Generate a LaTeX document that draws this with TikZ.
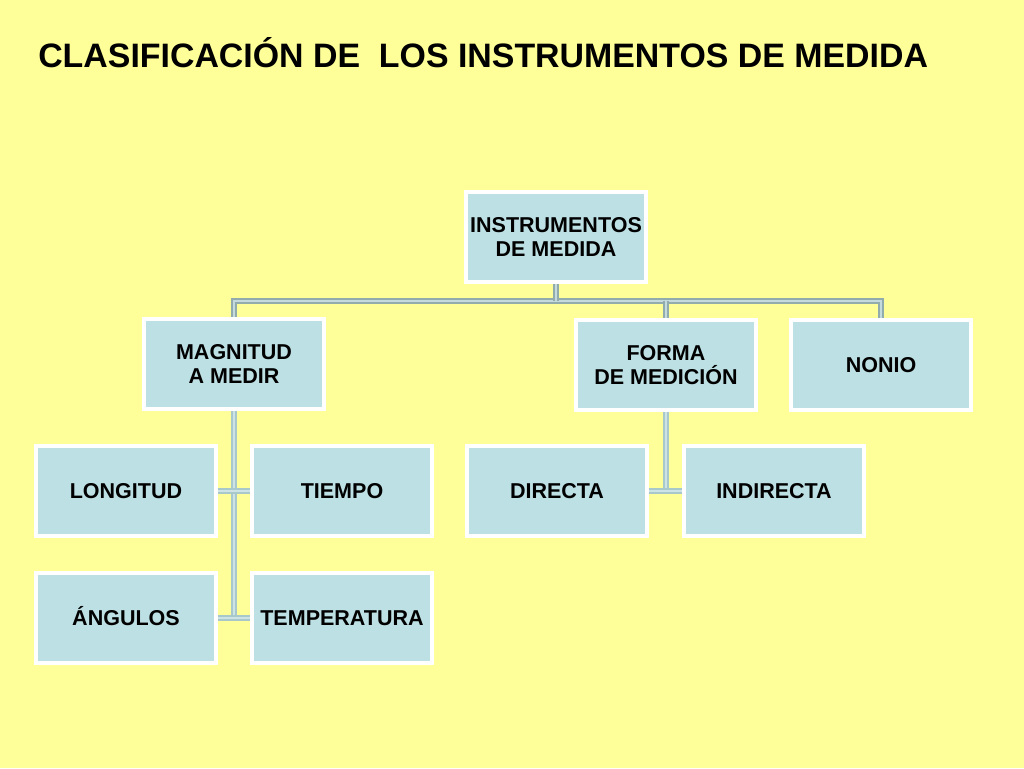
\documentclass[tikz,border=0pt]{standalone}
\usepackage{fontspec}
\setmainfont{Liberation Sans}
\usetikzlibrary{shapes,arrows,positioning,calc}

\begin{document}
\begin{tikzpicture}[x=0.25mm, y=-0.25mm,
    box/.style={draw=white, line width=2.2pt, fill=boxblue, minimum width=45mm, minimum height=22.5mm,
        inner sep=2pt, align=center, font=\fontsize{15.3}{17}\selectfont\bfseries},
    oneline/.style={text height=1.9ex, text depth=0pt},
    twoline/.style={text depth=0pt},
    link/.style={draw=linegray, line width=1.3pt, double=linelight, double distance=1.4pt},
    sublink/.style={draw=subgray, line width=1.2pt, double=sublight, double distance=1.2pt}]
        \definecolor{bgyellow}{RGB}{255,255,153}
        \definecolor{boxblue}{RGB}{189,224,228}
        \definecolor{linegray}{RGB}{146,172,174}
        \definecolor{linelight}{RGB}{196,218,220}
        \definecolor{subgray}{RGB}{168,200,204}
        \definecolor{sublight}{RGB}{205,228,230}

        % Background
        \fill[bgyellow] (0,0) rectangle (1024,768);

        % Title
        \node[anchor=base west, inner sep=0pt, font=\fontsize{24.1}{28}\selectfont\bfseries] (title) at (38,67)
            {CLASIFICACIÓN DE\ \ LOS INSTRUMENTOS DE MEDIDA};

        % Root and first level
        \node[box, twoline] (inst) at (556,237) {INSTRUMENTOS\\DE MEDIDA};
        \node[box, twoline] (mag) at (234,364) {MAGNITUD\\A MEDIR};
        \node[box, twoline] (forma) at (666,365) {FORMA\\DE MEDICIÓN};
        \node[box, oneline] (nonio) at (881,365) {NONIO};
        \coordinate (bus) at (556,301);

        % Under MAGNITUD A MEDIR
        \node[box, oneline] (lon) at (126,491) {LONGITUD};
        \node[box, oneline] (tie) at (342,491) {TIEMPO};
        \node[box, oneline] (ang) at (126,618) {ÁNGULOS};
        \node[box, oneline] (tem) at (342,618) {TEMPERATURA};

        % Under FORMA DE MEDICIÓN
        \node[box, oneline] (dir) at (557,491) {DIRECTA};
        \node[box, oneline] (ind) at (774,491) {INDIRECTA};

        % Connectors
        \draw[link] (mag.north) |- (bus -| nonio.north) -- (nonio.north);
        \draw[link] (inst.south) -- (bus);
        \draw[link] (bus -| forma.north) -- (forma.north);
        \draw[sublink] (mag.south) -- (mag.south |- ang.east);
        \draw[sublink] (lon.east) -- (tie.west);
        \draw[sublink] (ang.east) -- (tem.west);
        \draw[sublink] (forma.south) -- (forma.south |- dir.east);
        \draw[sublink] (dir.east) -- (ind.west);
    \end{tikzpicture}
\end{document}
